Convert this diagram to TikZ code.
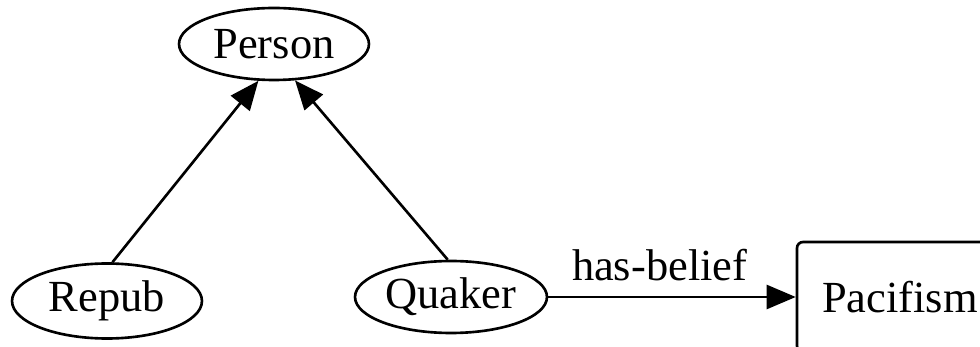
\documentclass[tikz,border=0pt]{standalone}
\usepackage{fontspec}
\setmainfont{Liberation Serif}
\usetikzlibrary{arrows.meta,shapes.geometric}
\begin{document}
\begin{tikzpicture}[x=0.02cm,y=-0.02cm,
  font=\fontsize{25.3}{30}\selectfont,
  every path/.style={line width=1.5pt},
  kind/.style={draw,ellipse,inner sep=0pt,minimum width=3.8cm,minimum height=1.44cm},
  belief/.style={draw,rectangle,rounded corners=0.12cm,minimum width=4.12cm,minimum height=2.2cm},
  isa/.style={-{Triangle[length=0.58cm,width=0.48cm]}}]
\useasboundingbox (0,0) rectangle (980,347);
\node[kind] (person) at (274,44) {Person};
\node[kind,minimum height=1.5cm] (repub) at (107,301) {Repub};
\node[kind,minimum width=3.84cm] (quaker) at (451,297) {Quaker};
\node[belief] (pacifism) at (900,297) {Pacifism};
\draw[isa] (repub.82) -- (person.247);
\draw[isa] (quaker.95) -- (person.300);
\draw[isa] (quaker.east) -- node[pos=0.45,above,inner sep=0.3cm] {has-belief} (pacifism.west);
\end{tikzpicture}
\end{document}
